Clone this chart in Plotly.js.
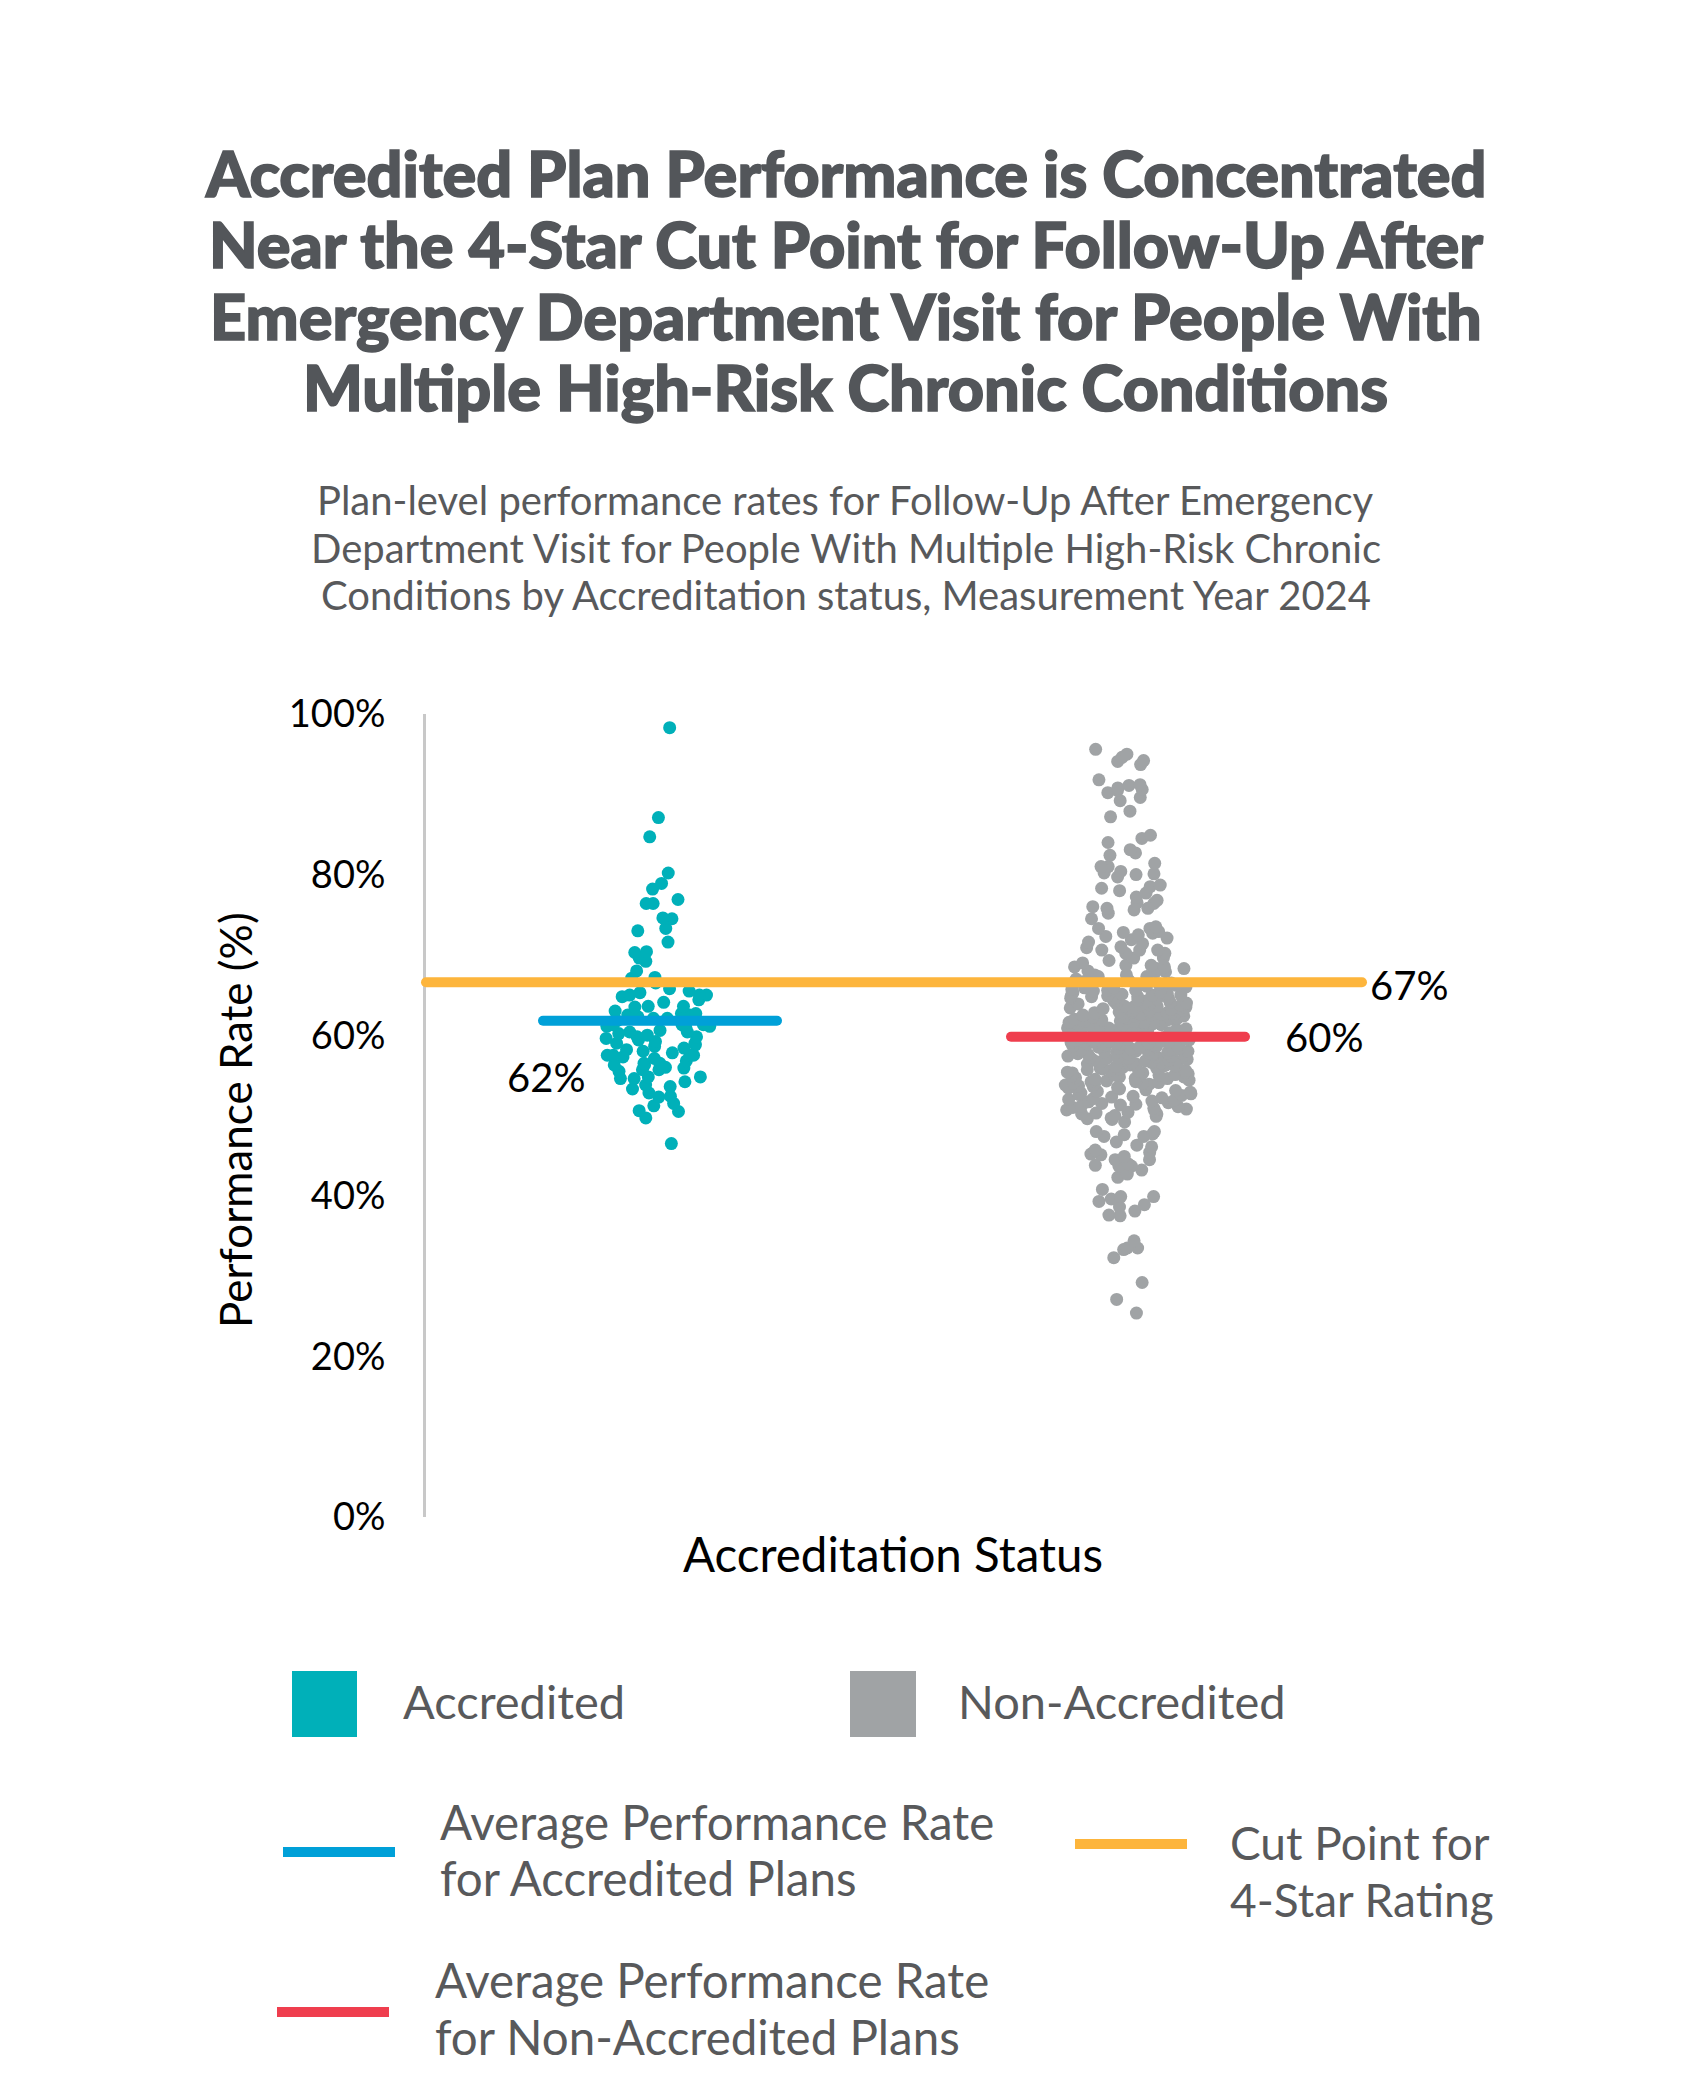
<!DOCTYPE html>
<html>
<head>
<meta charset="utf-8">
<script src="https://cdn.plot.ly/plotly-3.0.1.min.js"></script>
<style>
  html, body { margin: 0; padding: 0; background: #ffffff; }
  #chart { width: 1691px; height: 2099px; }
  #chart .shapelayer path { stroke-linecap: round; }
  #chart g.annotation[data-index="0"] text,
  #chart g.annotation[data-index="1"] text,
  #chart g.annotation[data-index="2"] text,
  #chart g.annotation[data-index="3"] text { stroke: #53565A; stroke-width: 1.6px; paint-order: stroke; }
</style>
</head>
<body>
<div id="chart"></div>
<script>
// ---------------- DATA ----------------
const categories = ['Accredited', 'Non-Accredited'];

const accreditedRates = [
  98.3, 87.1, 84.7, 80.2, 78.9, 78.2, 76.4, 76.9, 76.4, 74.5, 74.6, 73.0, 73.3,
  71.6, 70.3, 69.6, 70.4, 69.2, 68.0, 67.2, 67.1, 66.5, 65.8, 65.5, 65.0, 64.8,
  65.0, 65.3, 65.0, 64.1, 64.4, 63.6, 63.6, 63.5, 62.7, 62.5, 62.1, 62.7, 62.1,
  62.5, 61.3, 61.3, 61.3, 61.1, 60.9, 61.1, 60.4, 60.2, 60.4, 59.8, 60.0, 59.8,
  59.6, 59.0, 59.2, 58.6, 58.8, 58.4, 59.0, 58.2, 57.5, 57.5, 57.5, 57.5, 57.3,
  57.1, 56.8, 56.3, 56.5, 56.5, 56.3, 55.7, 55.5, 55.7, 55.9, 54.8, 54.6, 54.6,
  54.8, 53.6, 54.2, 53.8, 52.8, 53.3, 52.3, 52.4, 51.2, 51.5, 50.6, 50.5, 49.7,
  46.5, 61.8, 60.6, 59.4, 58.0, 56.0, 63.0, 62.3, 57.8
];

const nonAccreditedRates = [
  // upper tail
  94.6, 93.7, 94.1, 95.0, 95.6, 94.2, 91.2, 90.8, 90.2, 89.6, 91.8, 90.6, 90.5,
  91.1, 89.2, 87.9, 87.2, 84.9, 84.0, 84.5, 82.7, 83.1, 82.4, 81.0, 80.2, 81.0,
  81.4, 80.1, 79.7, 80.4, 80.0, 78.3, 78.0, 78.5, 78.7, 77.2, 77.7, 76.5, 76.8,
  75.8, 76.4, 76.0, 75.6, 75.8, 75.2, 73.3, 73.5, 72.3, 72.8, 72.9, 72.7, 72.5,
  72.1, 71.6, 73.3, 71.4, 70.6, 70.2, 70.6, 69.6, 70.2, 70.6, 69.6, 68.7, 68.5,
  68.7, 67.9, 68.3, 68.5, 68.3, 67.9, 67.5, 67.5, 67.3, 67.3, 71.0, 69.0, 68.0,
  67.0, 69.3, 70.9, 71.9, 74.5,
  // dense centre
  66.9, 66.4, 66.7, 66.1, 66.5, 66.2, 66.8, 66.0,
  65.9, 65.2, 65.6, 65.0, 65.4, 65.8, 65.1, 65.7, 65.3, 65.5, 65.9, 65.0, 65.6, 65.2,
  64.9, 64.3, 64.6, 64.0, 64.8, 64.2, 64.5, 64.7, 64.1, 64.4, 64.9, 64.6, 64.0, 64.3, 64.8, 64.5,
  63.8, 63.2, 63.5, 63.0, 63.9, 63.4, 63.7, 63.1, 63.6, 63.3, 63.8, 63.0, 63.5, 63.2, 63.9, 63.6, 63.4, 63.1,
  62.9, 62.4, 62.7, 62.1, 62.5, 62.8, 62.0, 62.3, 62.6, 62.9, 62.2, 62.5, 62.7, 62.0, 62.4, 62.8, 62.3, 62.6, 62.1, 62.9,
  61.8, 61.3, 61.6, 61.0, 61.9, 61.4, 61.7, 61.1, 61.5, 61.2, 61.8, 61.0, 61.6, 61.3, 61.9, 61.5, 61.1, 61.7, 61.4, 61.2,
  60.9, 60.4, 60.7, 60.1, 60.5, 60.8, 60.2, 60.6, 60.0, 60.3, 60.9, 60.5, 60.7, 60.1, 60.4, 60.8, 60.2, 60.6, 60.3, 60.0,
  59.9, 59.3, 59.6, 59.0, 59.8, 59.4, 59.7, 59.1, 59.5, 59.2, 59.9, 59.6, 59.0, 59.3, 59.8, 59.4, 59.7, 59.1, 59.5, 59.2,
  58.8, 58.3, 58.6, 58.0, 58.9, 58.4, 58.7, 58.1, 58.5, 58.2, 58.8, 58.6, 58.0, 58.3, 58.9, 58.4, 58.7, 58.1, 58.5, 58.2,
  57.9, 57.4, 57.7, 57.1, 57.5, 57.8, 57.2, 57.6, 57.0, 57.3, 57.9, 57.5, 57.7, 57.1, 57.4, 57.8, 57.2, 57.6,
  56.8, 56.3, 56.6, 56.0, 56.9, 56.4, 56.7, 56.1, 56.5, 56.2, 56.8, 56.6, 56.0, 56.3, 56.9, 56.4, 56.7, 56.1,
  55.9, 55.3, 55.6, 55.0, 55.8, 55.4, 55.7, 55.1, 55.5, 55.2, 55.9, 55.6, 55.0, 55.3, 55.8, 55.4,
  54.8, 54.2, 54.6, 54.0, 54.9, 54.4, 54.7, 54.1, 54.5, 54.3, 54.8, 54.0, 54.6, 54.2,
  53.9, 53.3, 53.6, 53.0, 53.8, 53.4, 53.7, 53.1, 53.5, 53.2, 53.9, 53.6,
  52.8, 52.2, 52.6, 52.0, 52.9, 52.4, 52.7, 52.1, 52.5, 52.3,
  51.9, 51.3, 51.6, 51.0, 51.8, 51.4, 51.7, 51.1, 51.5, 51.2,
  50.8, 50.2, 50.6, 50.0, 50.9, 50.4, 50.7, 50.3,
  49.9, 49.5, 49.7, 49.6,
  // lower tail
  49.2, 48.0, 46.7, 46.3, 47.6, 47.4, 45.7, 47.4, 47.7, 46.1, 48.0, 50.2, 44.9,
  45.2, 43.7, 43.7, 43.2, 45.1, 44.5, 42.7, 44.0, 43.8, 44.5, 45.4, 42.3, 40.8,
  39.9, 39.6, 38.9, 37.5, 39.3, 37.6, 38.1, 39.9, 38.6, 33.5, 33.5, 32.3, 34.4,
  33.3, 29.2, 27.1, 25.4
];

const cutPoint4Star = 66.6;
const avgAccredited = 61.8;
const avgNonAccredited = 59.8;

const yTickVals = [0, 20, 40, 60, 80, 100];
const yTickText = yTickVals.map(v => v + '%');

const titleLines = [
  'Accredited Plan Performance is Concentrated',
  'Near the 4-Star Cut Point for Follow-Up After',
  'Emergency Department Visit for People With',
  'Multiple High-Risk Chronic Conditions'
];
const subtitleLines = [
  'Plan-level performance rates for Follow-Up After Emergency',
  'Department Visit for People With Multiple High-Risk Chronic',
  'Conditions by Accreditation status, Measurement Year 2024'
];
const legendSeries = ['Accredited', 'Non-Accredited'];
const legendAvgAcc = ['Average Performance Rate', 'for Accredited Plans'];
const legendAvgNon = ['Average Performance Rate', 'for Non-Accredited Plans'];
const legendCut = ['Cut Point for', '4-Star Rating'];

// ---------------- STYLE ----------------
const TEAL = '#00B0B9';
const GRAY = '#A0A3A5';
const BLUE = '#00A0D8';
const RED = '#EF3E4E';
const ORANGE = '#FDB53C';
const TXT = '#58595B';
const TITLE_C = '#53565A';
const FONT = 'Lato, "Open Sans", sans-serif';

const W = 1691, H = 2099;
const M = { l: 426, r: 329, t: 714, b: 582 };
const PW = W - M.l - M.r, PH = H - M.t - M.b;
const X = p => (p - M.l) / PW;          // pixel -> paper x
const Y = p => (H - M.b - p) / PH;      // pixel -> paper y

const pointStyle = (color) => ({
  type: 'box',
  boxpoints: 'all',
  jitter: 1,
  pointpos: 0,
  width: 0.27,
  fillcolor: 'rgba(0,0,0,0)',
  line: { width: 0, color: 'rgba(0,0,0,0)' },
  marker: { color: color, size: 13, opacity: 1, line: { width: 0 } },
  showlegend: false,
  hoverinfo: 'y'
});

const traces = [
  Object.assign(pointStyle(TEAL), {
    name: categories[0],
    x: accreditedRates.map(() => categories[0]),
    y: accreditedRates
  }),
  Object.assign(pointStyle(GRAY), {
    name: categories[1],
    x: nonAccreditedRates.map(() => categories[1]),
    y: nonAccreditedRates
  })
];

const shapes = [
  { type: 'line', xref: 'paper', yref: 'y', x0: 0, x1: 1, y0: cutPoint4Star, y1: cutPoint4Star,
    line: { color: ORANGE, width: 10 }, layer: 'above' },
  { type: 'line', xref: 'x', yref: 'y', x0: -0.25, x1: 0.25, y0: avgAccredited, y1: avgAccredited,
    line: { color: BLUE, width: 10 }, layer: 'above' },
  { type: 'line', xref: 'x', yref: 'y', x0: 0.75, x1: 1.25, y0: avgNonAccredited, y1: avgNonAccredited,
    line: { color: RED, width: 10 }, layer: 'above' }
];

function legRect(x0, x1, y0, y1, color) {
  return { type: 'rect', xref: 'paper', yref: 'paper', x0: X(x0), x1: X(x1), y0: Y(y0), y1: Y(y1),
           fillcolor: color, line: { width: 0 } };
}
shapes.push(legRect(292, 357, 1671, 1737, TEAL));
shapes.push(legRect(850, 916, 1671, 1737, GRAY));
shapes.push(legRect(283, 395, 1847, 1857, BLUE));
shapes.push(legRect(1075, 1187, 1839, 1849, ORANGE));
shapes.push(legRect(277, 389, 2007, 2017, RED));

function txt(text, px, py, size, color, anchor, extra) {
  return Object.assign({
    text: text, xref: 'paper', yref: 'paper', x: X(px), y: Y(py),
    xanchor: anchor || 'left', yanchor: 'middle', showarrow: false,
    font: { family: FONT, size: size, color: color }
  }, extra || {});
}

const annotations = [];
// title (indices 0-3)
const titleMid = [172, 243, 315, 387];
titleLines.forEach((line, i) => {
  annotations.push(txt(line, 845.5, titleMid[i], 63, TITLE_C, 'center',
    { font: { family: FONT, size: 63, color: TITLE_C, weight: 900 } }));
});
// subtitle
const subMid = [500, 548, 595];
subtitleLines.forEach((line, i) => {
  annotations.push(txt(line, 845.5, subMid[i], 40, TXT, 'center'));
});
// axis titles
annotations.push(txt('Performance Rate (%)', 235, 1120, 44, '#000000', 'center', { textangle: -90 }));
annotations.push(txt('Accreditation Status', 893, 1553, 47.5, '#000000', 'center'));
// value labels
annotations.push({ text: Math.round(cutPoint4Star) + '%', xref: 'paper', yref: 'y', x: 1, y: cutPoint4Star,
  xanchor: 'left', yanchor: 'middle', xshift: 6, yshift: -3, showarrow: false,
  font: { family: FONT, size: 40, color: '#000000' } });
annotations.push({ text: Math.round(avgNonAccredited) + '%', xref: 'x', yref: 'y', x: 1.25, y: avgNonAccredited,
  xanchor: 'left', yanchor: 'middle', xshift: 38, yshift: 0, showarrow: false,
  font: { family: FONT, size: 40, color: '#000000' } });
annotations.push({ text: Math.round(avgAccredited) + '%', xref: 'x', yref: 'y', x: -0.25, y: avgAccredited,
  xanchor: 'center', yanchor: 'middle', xshift: 3, yshift: -56, showarrow: false,
  font: { family: FONT, size: 40, color: '#000000' } });
// legend text
annotations.push(txt(legendSeries[0], 401, 1701, 47, TXT));
annotations.push(txt(legendSeries[1], 956, 1701, 47, TXT));
annotations.push(txt(legendAvgAcc[0], 438, 1821, 47.5, TXT));
annotations.push(txt(legendAvgAcc[1], 438, 1877, 47.5, TXT));
annotations.push(txt(legendCut[0], 1228, 1842, 46, TXT));
annotations.push(txt(legendCut[1], 1228, 1899, 46, TXT));
annotations.push(txt(legendAvgNon[0], 433, 1979, 47.5, TXT));
annotations.push(txt(legendAvgNon[1], 433, 2036, 47.5, TXT));

const layout = {
  width: W, height: H,
  margin: M,
  paper_bgcolor: '#ffffff',
  plot_bgcolor: '#ffffff',
  showlegend: false,
  font: { family: FONT, color: '#000000' },
  xaxis: {
    type: 'category', categoryorder: 'array', categoryarray: categories,
    range: [-0.5, 1.5], showticklabels: false, showline: false, showgrid: false,
    zeroline: false, ticks: '', fixedrange: true
  },
  yaxis: {
    range: [0, 100], tickvals: yTickVals, ticktext: yTickText,
    showline: true, linecolor: '#C8C8C8', linewidth: 3,
    showgrid: false, zeroline: false, ticks: '', ticklabelstandoff: 30,
    tickfont: { family: FONT, size: 38, color: '#000000' }, fixedrange: true
  },
  shapes: shapes,
  annotations: annotations
};

Plotly.newPlot('chart', traces, layout, { staticPlot: true, displayModeBar: false });
</script>
</body>
</html>
